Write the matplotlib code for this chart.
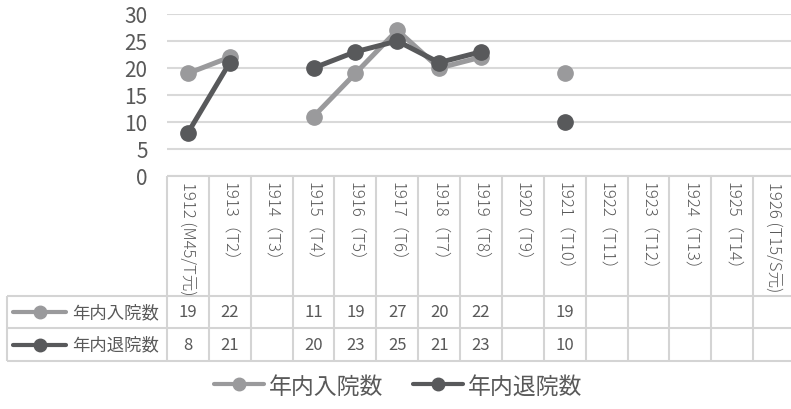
import numpy as np
import matplotlib.pyplot as plt
from matplotlib.lines import Line2D

plt.rcParams['font.family'] = ['Noto Sans CJK JP', 'DejaVu Sans']

years = ['1912 (M45/T元)', '1913（T2）', '1914（T3）', '1915（T4）', '1916（T5）',
         '1917（T6）', '1918（T7）', '1919（T8）', '1920（T9）', '1921（T10）',
         '1922（T11）', '1923（T12）', '1924（T13）', '1925（T14）', '1926 (T15/S元)']
admitted = [19, 22, None, 11, 19, 27, 20, 22, None, 19, None, None, None, None, None]
discharged = [8, 21, None, 20, 23, 25, 21, 23, None, 10, None, None, None, None, None]
series_names = ['年内入院数', '年内退院数']
colors = ['#9a9a9c', '#58595b']
yticks = [0, 5, 10, 15, 20, 25, 30]

text_col = '#595959'
grid_col = '#d9d9d9'

W, H = 791, 410
fig = plt.figure(figsize=(W / 100, H / 100), dpi=100)


def box(l, t, r, b):
    return [l / W, 1 - b / H, (r - l) / W, (b - t) / H]


# plot area
left, right, top, bottom = 167, 795, 15, 177
ax = fig.add_axes(box(left, top, right, bottom))
x = np.arange(len(years))
series = [admitted, discharged]
for vals, name, c, z in zip(series, series_names, colors, [3, 4]):
    y = np.array([np.nan if v is None else v for v in vals], dtype=float)
    ax.plot(x, y, color=c, lw=3.6, marker='o', ms=11, zorder=z,
            solid_capstyle='round')
ax.set_xlim(-0.5, len(years) - 0.5)
ax.set_ylim(0, 30)
ax.set_yticks(yticks)
ax.set_xticks([])
ax.tick_params(axis='y', length=0, pad=14, labelsize=15, labelcolor=text_col)
ax.grid(axis='y', color=grid_col, lw=1.5)
ax.set_axisbelow(True)
for s in ax.spines.values():
    s.set_visible(False)

# data table below the plot
tab = fig.add_axes([0, 0, 1, 1], facecolor='none')
tab.set_xlim(0, W)
tab.set_ylim(H, 0)
tab.axis('off')

col_w = (right - left) / len(years)
row_top, head_bot, row1_bot, row2_bot = bottom, 297, 329, 362
key_left = 7
lkw = dict(color='#d4d4d4', lw=1.5, solid_capstyle='butt')

tab.plot([left, right], [row_top, row_top], **lkw)
for yy in (head_bot, row1_bot, row2_bot):
    tab.plot([key_left, right], [yy, yy], **lkw)
tab.plot([key_left, key_left], [head_bot, row2_bot], **lkw)
for i in range(len(years) + 1):
    xx = left + i * col_w
    tab.plot([xx, xx], [row_top, row2_bot], **lkw)

for i, lab in enumerate(years):
    cx = left + (i + 0.5) * col_w
    tab.text(cx, row_top + 5, lab, rotation=-90, ha='center', va='top',
             fontsize=12, color=text_col, fontweight='light')

row_mids = [(head_bot + row1_bot) / 2, (row1_bot + row2_bot) / 2]
for vals, name, c, ym in zip(series, series_names, colors, row_mids):
    tab.plot([13, 66], [ym, ym], color=c, lw=3, solid_capstyle='round')
    tab.plot([40], [ym], marker='o', ms=9, color=c)
    tab.text(72, ym, name, ha='left', va='center', fontsize=12.5, color=text_col)
    for i, v in enumerate(vals):
        if v is not None:
            tab.text(left + (i + 0.5) * col_w, ym, str(v), ha='center',
                     va='center', fontsize=12, color=text_col)

# legend at the bottom
handles = [Line2D([], [], color=c, lw=3, marker='o', ms=9,
                  solid_capstyle='round') for c in colors]
leg = fig.legend(handles, series_names, loc='center',
                 bbox_to_anchor=(398 / W, 1 - 387 / H),
                 ncol=2, frameon=False, fontsize=16.5, handlelength=2.2,
                 handletextpad=0.2, columnspacing=1.3)
for t in leg.get_texts():
    t.set_color(text_col)

fig.savefig('out.png', dpi=100)
